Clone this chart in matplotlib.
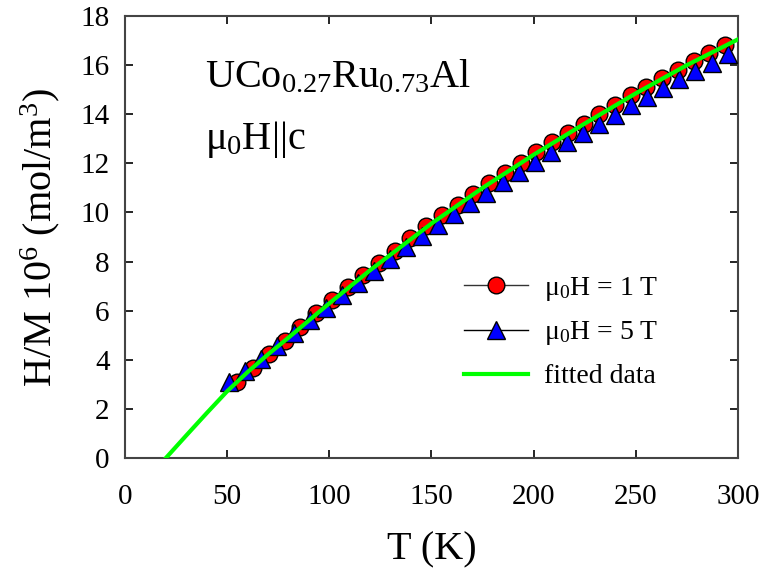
import matplotlib
matplotlib.use('Agg')
import matplotlib.pyplot as plt
from matplotlib.lines import Line2D

plt.rcParams['font.family'] = 'Liberation Serif'
plt.rcParams['mathtext.fontset'] = 'custom'
plt.rcParams['mathtext.rm'] = 'Liberation Serif'
plt.rcParams['mathtext.it'] = 'Liberation Serif:italic'

# mu0H = 1 T
t_1T = [55.0, 62.7, 70.4, 78.1, 85.8, 93.5, 101.2, 108.9, 116.6, 124.3, 132.0,
        139.7, 147.4, 155.1, 162.8, 170.5, 178.2, 185.9, 193.6, 201.3, 209.0,
        216.7, 224.4, 232.1, 239.8, 247.5, 255.2, 262.9, 270.6, 278.3, 286.0, 293.7]
hm_1T = [3.10, 3.65, 4.22, 4.78, 5.35, 5.90, 6.45, 6.95, 7.45, 7.95, 8.45,
         8.95, 9.45, 9.90, 10.32, 10.75, 11.18, 11.60, 12.02, 12.45, 12.85,
         13.25, 13.62, 14.00, 14.38, 14.78, 15.12, 15.48, 15.82, 16.15, 16.48, 16.80]

# mu0H = 5 T
t_5T = [51.0, 58.9, 66.7, 74.6, 82.5, 90.3, 98.2, 106.1, 114.0, 121.8, 129.7,
        137.6, 145.4, 153.3, 161.2, 169.0, 176.9, 184.8, 192.6, 200.5, 208.4,
        216.3, 224.1, 232.0, 239.9, 247.7, 255.6, 263.5, 271.3, 279.2, 287.1, 295.0]
hm_5T = [3.10, 3.55, 4.05, 4.55, 5.08, 5.60, 6.12, 6.62, 7.12, 7.62, 8.10,
         8.58, 9.05, 9.50, 9.95, 10.38, 10.80, 11.22, 11.65, 12.05, 12.45,
         12.85, 13.22, 13.60, 13.98, 14.36, 14.72, 15.08, 15.42, 15.76, 16.10, 16.45]

# fitted curve
t_fit = [20, 30, 40, 50, 60, 70, 80, 100, 120, 150, 175, 200, 225, 250, 275, 300]
hm_fit = [0.0, 0.92, 1.83, 2.72, 3.50, 4.22, 4.90, 6.30, 7.65, 9.55, 11.0,
          12.35, 13.62, 14.85, 16.0, 17.05]

fig = plt.figure(figsize=(7.66, 5.78), dpi=100)
ax = fig.add_axes([0.1632, 0.2076, 0.8002, 0.7647])

ax.plot(t_1T, hm_1T, 'o', ms=12, mfc='#ff0000', mec='k', mew=1, zorder=3)
ax.plot(t_5T, hm_5T, '^', ms=13, mfc='#0000ff', mec='k', mew=1, zorder=4)
ax.plot(t_fit, hm_fit, '-', color='#00ff00', lw=3, zorder=5)

ax.set_xlim(0, 300)
ax.set_ylim(0, 18)
ax.set_xticks(range(0, 301, 50))
ax.set_yticks(range(0, 19, 2))
ax.tick_params(direction='in', length=6, width=1.2, top=True, right=True,
               labelsize=21)
ax.tick_params(axis='x', pad=19)
ax.tick_params(axis='y', pad=11)
for s in ax.spines.values():
    s.set_linewidth(1.5)
    s.set_color('#444444')

ax.set_xlabel('T (K)', fontsize=29, labelpad=15)
ax.set_ylabel('H/M 10$^6$ (mol/m$^3$)', fontsize=29, labelpad=13)

ax.text(0.13, 0.86, 'UCo$_{0.27}$Ru$_{0.73}$Al', transform=ax.transAxes,
        fontsize=29, va='center')
ax.text(0.13, 0.72, 'μ$_0$H||c', transform=ax.transAxes, fontsize=29, va='center')

handles = [
    Line2D([], [], color='#333333', lw=1, marker='o', ms=12, mfc='#ff0000', mec='k'),
    Line2D([], [], color='k', lw=1, marker='^', ms=13, mfc='#0000ff', mec='k'),
    Line2D([], [], color='#00ff00', lw=3),
]
labels = ['μ$_0$H = 1 T', 'μ$_0$H = 5 T', 'fitted data']
ax.legend(handles, labels, loc='center left', bbox_to_anchor=(0.512, 0.285),
          frameon=False, fontsize=20, handlelength=2.3, labelspacing=0.6,
          handletextpad=0.6)

fig.savefig('out.png', dpi=100)
